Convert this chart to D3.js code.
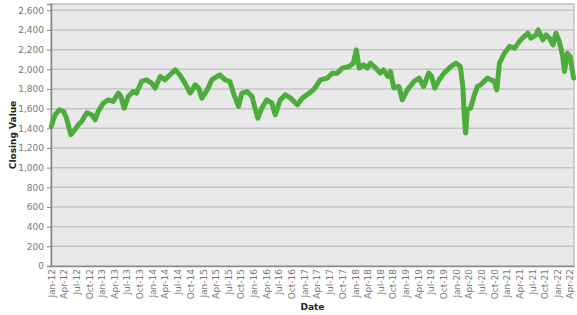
<!DOCTYPE html>
<html>
<head>
<meta charset="utf-8">
<script src="https://cdn.jsdelivr.net/npm/d3@7"></script>
<style>
  body { margin: 0; background: #fff; }
  text { font-family: "DejaVu Sans", Verdana, sans-serif; }
</style>
</head>
<body>
<div id="chart"></div>
<script>
// closing values
var dates = [
  "2012-01-03","2012-01-20","2012-02-01","2012-03-01","2012-04-01","2012-04-21","2012-05-23","2012-06-21","2012-07-15",
  "2012-08-09","2012-09-15","2012-10-21","2012-11-15","2012-12-06","2013-01-12","2013-02-18","2013-03-24",
  "2013-05-01","2013-05-19","2013-06-12","2013-07-12","2013-08-15","2013-09-09","2013-10-15","2013-11-21",
  "2013-12-27","2014-01-21","2014-02-27","2014-04-01","2014-05-09","2014-06-15","2014-07-18","2014-08-24",
  "2014-10-01","2014-11-06","2014-12-01","2014-12-24","2015-02-01","2015-03-06","2015-04-12","2015-05-03",
  "2015-06-09","2015-07-15","2015-08-09","2015-09-15","2015-10-09","2015-11-15","2015-12-21","2016-01-12",
  "2016-02-01","2016-03-01","2016-04-06","2016-05-12","2016-06-06","2016-07-12","2016-08-18","2016-09-24",
  "2016-11-12","2016-12-18","2017-01-21","2017-03-09","2017-04-27","2017-06-15","2017-07-21","2017-08-27",
  "2017-10-03","2017-11-21","2017-12-21","2018-01-12","2018-02-01","2018-03-06","2018-04-01","2018-04-24",
  "2018-06-01","2018-07-03","2018-07-27","2018-08-27","2018-09-15","2018-10-09","2018-11-15","2018-12-09",
  "2019-01-15","2019-03-03","2019-04-09","2019-05-12","2019-06-18","2019-07-09","2019-08-01","2019-09-01",
  "2019-10-06","2019-11-01","2019-11-24","2020-01-01","2020-02-01","2020-02-19","2020-03-01","2020-03-10",
  "2020-03-22","2020-04-15","2020-05-09","2020-06-03","2020-06-27","2020-07-21","2020-08-15","2020-09-09",
  "2020-10-03","2020-10-21","2020-11-09","2020-12-15","2021-01-21","2021-02-27","2021-04-01","2021-05-06",
  "2021-06-01","2021-06-24","2021-08-01","2021-08-15","2021-09-18","2021-10-12","2021-11-06","2021-12-01",
  "2021-12-21","2022-01-15","2022-02-09","2022-02-21","2022-03-15","2022-04-03","2022-04-28"
];
var closeValues = [
  1420,1500,1538,1589,1571,1507,1335,1385,1436,
  1470,1558,1538,1487,1571,1656,1690,1673,
  1758,1724,1606,1724,1774,1758,1876,1893,
  1859,1809,1927,1893,1944,1995,1944,1859,
  1758,1842,1809,1707,1791,1893,1927,1944,
  1893,1876,1758,1622,1758,1774,1724,1606,
  1504,1606,1690,1656,1538,1690,1741,1707,
  1639,1707,1741,1791,1893,1910,1961,1961,
  2012,2028,2062,2198,2012,2045,2012,2062,
  2012,1961,1995,1927,1978,1809,1825,1690,
  1791,1876,1910,1825,1961,1927,1809,1893,
  1961,1995,2028,2062,2028,1825,1520,1352,
  1589,1606,1724,1825,1842,1876,1910,1893,
  1876,1791,2062,2164,2232,2215,2282,2333,
  2367,2316,2350,2401,2299,2350,2316,2248,
  2367,2282,2130,1978,2164,2130,1910
];
var yTicks = [0,200,400,600,800,1000,1200,1400,1600,1800,2000,2200,2400,2600];

var width = 577, height = 315;
var margin = {left: 51, right: 3, top: 4, bottom: 49};
var parse = d3.timeParse("%Y-%m-%d");
var data = dates.map(function (d, i) { return {date: parse(d), value: closeValues[i]}; });

var svg = d3.select("#chart").append("svg")
    .attr("width", width).attr("height", height);

var x = d3.scaleTime()
    .domain([new Date(2012, 0, 1), new Date(2022, 4, 1)])
    .range([margin.left, width - margin.right]);
var y = d3.scaleLinear()
    .domain([0, 2664])
    .range([height - margin.bottom, margin.top]);

// plot background
svg.append("rect")
    .attr("x", margin.left).attr("y", margin.top)
    .attr("width", width - margin.right - margin.left)
    .attr("height", height - margin.bottom - margin.top)
    .attr("fill", "#e9e9e9")
    .attr("stroke", "#a8a8a8");

// grid
svg.append("g").selectAll("line")
    .data(yTicks.slice(1))
    .enter().append("line")
    .attr("x1", margin.left).attr("x2", width - margin.right)
    .attr("y1", function (d) { return y(d); })
    .attr("y2", function (d) { return y(d); })
    .attr("stroke", "#c4c4c4")
    .attr("stroke-width", 1.5);

// y axis
var yAxis = svg.append("g")
    .attr("transform", "translate(" + margin.left + ",0)")
    .call(d3.axisLeft(y).tickValues(yTicks).tickSize(4).tickPadding(3).tickFormat(d3.format(",")));
yAxis.select(".domain").attr("stroke", "#8a8a8a").attr("stroke-width", 1.5);
yAxis.selectAll(".tick line").attr("stroke", "#8a8a8a");
yAxis.selectAll("text").attr("fill", "#777").style("font-size", "9px");

// x axis
var xAxis = svg.append("g")
    .attr("transform", "translate(0," + (height - margin.bottom) + ")")
    .call(d3.axisBottom(x).ticks(d3.timeMonth.every(3)).tickSize(0).tickFormat(d3.timeFormat("%b-%y")));
xAxis.select(".domain").attr("stroke", "#8a8a8a").attr("stroke-width", 1.5);
xAxis.selectAll("text")
    .attr("fill", "#777")
    .style("font-size", "9px")
    .attr("transform", "rotate(-90)")
    .attr("text-anchor", "end")
    .attr("x", -3).attr("y", 0).attr("dy", "0.35em");

// line
var line = d3.line()
    .x(function (d) { return x(d.date); })
    .y(function (d) { return y(d.value); });

svg.append("path")
    .datum(data)
    .attr("d", line)
    .attr("fill", "none")
    .attr("stroke", "#4cad3b")
    .attr("stroke-width", 5)
    .attr("stroke-linejoin", "round")
    .attr("stroke-linecap", "round");

// titles
svg.append("text")
    .attr("transform", "translate(13," + ((margin.top + height - margin.bottom) / 2) + ") rotate(-90)")
    .attr("text-anchor", "middle")
    .attr("dy", "0.35em")
    .style("font-size", "9px").style("font-weight", "bold")
    .attr("fill", "#222")
    .text("Closing Value");

svg.append("text")
    .attr("x", (margin.left + width - margin.right) / 2)
    .attr("y", 310)
    .attr("text-anchor", "middle")
    .style("font-size", "9px").style("font-weight", "bold")
    .attr("fill", "#222")
    .text("Date");
</script>
</body>
</html>
